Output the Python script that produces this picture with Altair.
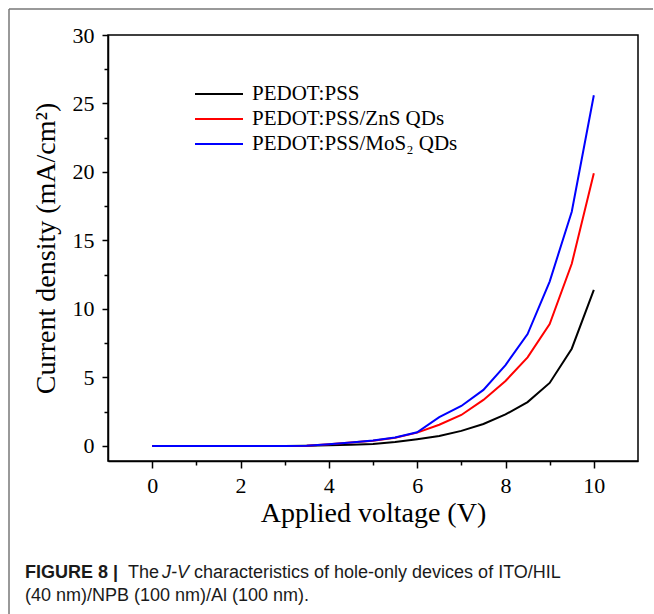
import altair as alt
import pandas as pd

voltage = [0, 0.5, 1, 1.5, 2, 2.5, 3, 3.5, 4, 4.5, 5, 5.5, 6, 6.5, 7, 7.5, 8, 8.5, 9, 9.5, 10]
pedot = [0, 0, 0, 0, 0, 0, 0, 0.01, 0.05, 0.09, 0.15, 0.28, 0.49, 0.73, 1.1, 1.6, 2.3, 3.2, 4.6, 7.1, 11.4]
zns = [0, 0, 0, 0, 0, 0, 0, 0.02, 0.12, 0.25, 0.38, 0.6, 0.97, 1.55, 2.26, 3.36, 4.74, 6.47, 8.9, 13.3, 19.9]
mos2 = [0, 0, 0, 0, 0, 0, 0, 0.02, 0.12, 0.25, 0.4, 0.62, 1.0, 2.1, 2.92, 4.09, 5.9, 8.17, 12.0, 17.1, 25.6]

series_names = ["PEDOT:PSS", "PEDOT:PSS/ZnS QDs", "PEDOT:PSS/MoS\u2082 QDs"]
series_colors = ["#000000", "#ff0000", "#0000ff"]

x_major = [0, 2, 4, 6, 8, 10]
x_minor = [1, 3, 5, 7, 9]
y_major = [0, 5, 10, 15, 20, 25, 30]
y_minor = [2.5, 7.5, 12.5, 17.5, 22.5, 27.5]

rows = []
for name, vals in zip(series_names, [pedot, zns, mos2]):
    for v, j in zip(voltage, vals):
        rows.append({"V": v, "J": j, "series": name})
df = pd.DataFrame(rows)
df["order"] = df["series"].map({n: i for i, n in enumerate(series_names)})

SERIF = "Liberation Serif"
SANS = "Liberation Sans"

xscale = alt.Scale(domain=[-1, 11], nice=False, zero=False)
yscale = alt.Scale(domain=[-1.1, 30], nice=False, zero=False)

lines = alt.Chart(df).mark_line(strokeWidth=2).encode(
    x=alt.X("V:Q", scale=xscale,
            axis=alt.Axis(values=x_major, title="Applied voltage (V)", orient="bottom",
                          tickSize=7, tickWidth=1.5, domainWidth=1.5, labelPadding=7,
                          titlePadding=3, grid=False, labelFontSize=22, titleFontSize=28,
                          labelFont=SERIF, titleFont=SERIF, titleFontWeight="normal",
                          labelColor="black", titleColor="black", domainColor="black",
                          tickColor="black", labelFlush=False)),
    y=alt.Y("J:Q", scale=yscale,
            axis=alt.Axis(values=y_major, title="Current density (mA/cm\u00b2)", orient="left",
                          tickSize=6, tickWidth=1.5, domainWidth=1.5, labelPadding=8,
                          titlePadding=12, grid=False, labelFontSize=22, titleFontSize=28,
                          labelFont=SERIF, titleFont=SERIF, titleFontWeight="normal",
                          labelColor="black", titleColor="black", domainColor="black",
                          tickColor="black", labelFlush=False)),
    color=alt.Color("series:N", title=None,
                    scale=alt.Scale(domain=series_names, range=series_colors),
                    legend=alt.Legend(orient="none", legendX=98, legendY=46,
                                      symbolType="M-2,0H2", symbolSize=576,
                                      symbolStrokeWidth=2, labelFont=SERIF,
                                      labelFontSize=21, labelColor="black",
                                      labelOffset=20, rowPadding=2, labelLimit=400)),
    order=alt.Order("order:Q"),
    detail="series:N",
)

minor = alt.Chart(df).mark_point(opacity=0).encode(
    x=alt.X("V:Q", scale=xscale,
            axis=alt.Axis(values=x_minor, orient="bottom", labels=False, title=None,
                          domain=False, grid=False, tickSize=4, tickWidth=1.5,
                          tickColor="black")),
    y=alt.Y("J:Q", scale=yscale,
            axis=alt.Axis(values=y_minor, orient="left", labels=False, title=None,
                          domain=False, grid=False, tickSize=4, tickWidth=1.5,
                          tickColor="black")),
)

one = pd.DataFrame({"a": [0]})
frame_left = alt.Chart(one).mark_rule(color="#777777", strokeWidth=1.5).encode(
    x=alt.value(-99), y=alt.value(-26), y2=alt.value(579))
frame_top = alt.Chart(one).mark_rule(color="#777777", strokeWidth=1.5).encode(
    x=alt.value(-99), x2=alt.value(545), y=alt.value(-26))

cap_style = dict(font=SANS, fontSize=18, color="#1a1a1a", align="left", baseline="middle")
cap1 = alt.Chart(one).mark_text(text="FIGURE 8 |", fontWeight="bold", **cap_style).encode(
    x=alt.value(-83), y=alt.value(538))
cap2 = alt.Chart(one).mark_text(text="The", **cap_style).encode(
    x=alt.value(20), y=alt.value(538))
cap3 = alt.Chart(one).mark_text(text="J-V", fontStyle="italic", **cap_style).encode(
    x=alt.value(54), y=alt.value(538))
cap4 = alt.Chart(one).mark_text(text="characteristics of hole-only devices of ITO/HIL", **cap_style).encode(
    x=alt.value(86), y=alt.value(538))
cap5 = alt.Chart(one).mark_text(text="(40 nm)/NPB (100 nm)/Al (100 nm).", **cap_style).encode(
    x=alt.value(-83), y=alt.value(561))

chart = alt.layer(
    frame_left, frame_top, minor, lines, cap1, cap2, cap3, cap4, cap5
).resolve_axis(x="independent", y="independent").properties(
    width=530, height=426,
    autosize=alt.AutoSizeParams(type="none"),
    padding={"left": 108, "top": 35, "right": 16, "bottom": 153},
    background="white",
).configure_view(stroke="black", strokeWidth=1.5)

chart.save("out.html", embed_options={"renderer": "svg", "actions": False})
